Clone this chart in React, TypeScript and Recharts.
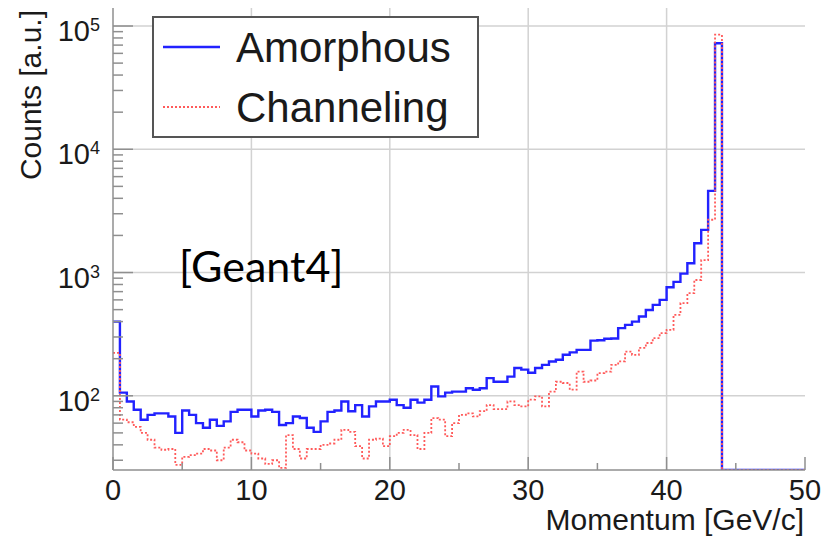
import { CartesianGrid, Line, LineChart, XAxis, YAxis } from "recharts";

const FONT = '"Liberation Sans", Arial, Helvetica, sans-serif';
const INK = "#1a1a1a";
const FRAME = "#8f8f8f";
const GRID = "#d2d2d2";

// momentum histogram, 0.5 GeV/c bins from 0 to 50
const BIN_WIDTH = 0.5;
const X_MAX = 50;

// counts per bin [a.u.]
const AMORPHOUS = [
  400, 106, 90, 77, 64, 70, 72, 72, 68, 50,
  76, 70, 60, 55, 64, 57, 62, 74, 77, 77,
  68, 76, 77, 74, 58, 60, 68, 66, 55, 51,
  62, 74, 76, 90, 75, 84, 68, 82, 90, 90,
  93, 84, 80, 93, 88, 93, 119, 99, 106, 108,
  108, 115, 112, 115, 139, 130, 130, 143, 168, 163,
  154, 168, 178, 190, 196, 215, 225, 236, 236, 280,
  282, 290, 292, 354, 376, 400, 440, 497, 546, 600,
  760, 840, 980, 1190, 1730, 2220, 4600, 72500, 0, 0,
  0, 0, 0, 0, 0, 0, 0, 0, 0, 0,
];

const CHANNELING = [
  223, 64, 61, 56, 50, 44, 38, 36.5, 37, 27.5,
  32, 33, 34, 37, 36, 30, 38, 44, 42, 36,
  34, 31, 28, 30, 26, 48, 37, 31, 37, 37,
  40, 41, 44, 53, 51, 39, 31, 44, 45, 39,
  47, 50, 53, 48, 37, 50, 66, 64, 47, 60,
  70, 72, 68, 75, 84, 78, 78, 90, 84, 82,
  93, 99, 82, 108, 130, 127, 112, 157, 130, 133,
  153, 157, 178, 190, 228, 215, 245, 268, 294, 322,
  343, 453, 565, 680, 870, 1260, 2680, 85000, 0, 0,
  0, 0, 0, 0, 0, 0, 0, 0, 0, 0,
];

const X_TICKS = [0, 5, 10, 15, 20, 25, 30, 35, 40, 45, 50];
const X_GRID = [10, 20, 30, 40];
const Y_DOMAIN: [number, number] = [25, 140000];
const Y_DECADES = [100, 1000, 10000, 100000];
const Y_MINOR = [
  30, 40, 50, 60, 70, 80, 90,
  200, 300, 400, 500, 600, 700, 800, 900,
  2000, 3000, 4000, 5000, 6000, 7000, 8000, 9000,
  20000, 30000, 40000, 50000, 60000, 70000, 80000, 90000,
];
const Y_TICKS = [...Y_MINOR, ...Y_DECADES].sort((a, b) => a - b);

// empty bins sit on the bottom of the log frame, as ROOT draws them
const floorLog = (v: number) => (v > 0 ? v : Y_DOMAIN[0]);

const rows = AMORPHOUS.map((a, i) => ({
  p: i * BIN_WIDTH,
  amorphous: floorLog(a),
  channeling: floorLog(CHANNELING[i]),
}));
rows.push({
  p: X_MAX,
  amorphous: floorLog(AMORPHOUS[AMORPHOUS.length - 1]),
  channeling: floorLog(CHANNELING[CHANNELING.length - 1]),
});

function XTick(props: any) {
  const { x, y, payload } = props;
  const v = payload.value as number;
  const major = v % 10 === 0;
  return (
    <g>
      <line x1={x} x2={x} y1={y} y2={y - (major ? 13 : 7)} stroke={FRAME} strokeWidth={1.5} />
      {major && (
        <text x={x} y={y + 30} textAnchor="middle" fontFamily={FONT} fontSize={29} fill={INK}>
          {v}
        </text>
      )}
    </g>
  );
}

function YTick(props: any) {
  const { x, y, payload } = props;
  const v = payload.value as number;
  const exp = Math.log10(v);
  const decade = Math.abs(exp - Math.round(exp)) < 1e-9;
  return (
    <g>
      <line x1={x} x2={x + (decade ? 20 : 10)} y1={y} y2={y} stroke={FRAME} strokeWidth={1.5} />
      {decade && (
        <text x={x - 13} y={y + 15} textAnchor="end" fontFamily={FONT} fontSize={29} fill={INK}>
          10
          <tspan dy={-10} fontSize={18}>
            {Math.round(exp)}
          </tspan>
        </text>
      )}
    </g>
  );
}

export default function App() {
  return (
    <div style={{ position: "absolute", left: 0, top: 0, width: 825, height: 545, background: "#fff" }}>
      <LineChart width={825} height={545} data={rows} margin={{ top: 8, right: 20, bottom: 0, left: 0 }}>
        <CartesianGrid stroke={GRID} strokeWidth={1.5} horizontalValues={Y_DECADES} verticalValues={X_GRID} />
        <XAxis
          dataKey="p"
          type="number"
          domain={[0, X_MAX]}
          ticks={X_TICKS}
          interval={0}
          height={75}
          tickSize={0}
          tickMargin={0}
          tickLine={false}
          axisLine={{ stroke: FRAME, strokeWidth: 1.5 }}
          tick={<XTick />}
          allowDataOverflow
        />
        <XAxis
          xAxisId="top"
          orientation="top"
          type="number"
          domain={[0, X_MAX]}
          height={0}
          tick={false}
          tickLine={false}
          axisLine={{ stroke: FRAME, strokeWidth: 1.5 }}
        />
        <YAxis
          scale="log"
          type="number"
          domain={Y_DOMAIN}
          ticks={Y_TICKS}
          interval={0}
          width={113}
          tickSize={0}
          tickMargin={0}
          tickLine={false}
          axisLine={{ stroke: FRAME, strokeWidth: 1.5 }}
          tick={<YTick />}
          allowDataOverflow
        />
        <YAxis
          yAxisId="right"
          orientation="right"
          width={0}
          tick={false}
          tickLine={false}
          axisLine={{ stroke: FRAME, strokeWidth: 1.5 }}
        />
        <Line
          dataKey="amorphous"
          type="stepAfter"
          stroke="#2222ff"
          strokeWidth={2.4}
          dot={false}
          activeDot={false}
          isAnimationActive={false}
        />
        <Line
          dataKey="channeling"
          type="stepAfter"
          stroke="#ff5a5a"
          strokeWidth={1.8}
          strokeDasharray="2 2"
          dot={false}
          activeDot={false}
          isAnimationActive={false}
        />
      </LineChart>
      <svg
        width={825}
        height={545}
        style={{ position: "absolute", left: 0, top: 0, pointerEvents: "none" }}
      >
        <text transform="rotate(-90)" x={-10} y={41} textAnchor="end" fontFamily={FONT} fontSize={30} fill={INK}>
          Counts [a.u.]
        </text>
        <text x={804} y={530} textAnchor="end" fontFamily={FONT} fontSize={30} fill={INK}>
          Momentum [GeV/c]
        </text>
        <rect x={153} y={17} width={325} height={120} fill="#fff" stroke="#555" strokeWidth={2} />
        <line x1={163} x2={220} y1={47} y2={47} stroke="#2222ff" strokeWidth={2.4} />
        <text x={236} y={62} fontFamily={FONT} fontSize={42} fill={INK}>
          Amorphous
        </text>
        <line x1={163} x2={220} y1={107} y2={107} stroke="#ff5a5a" strokeWidth={1.8} strokeDasharray="2 2" />
        <text x={236} y={122} fontFamily={FONT} fontSize={42} fill={INK}>
          Channeling
        </text>
        <text x={179} y={282} fontFamily="Lato, 'Noto Sans', sans-serif" fontSize={43} fill="#000">
          [Geant4]
        </text>
      </svg>
    </div>
  );
}
